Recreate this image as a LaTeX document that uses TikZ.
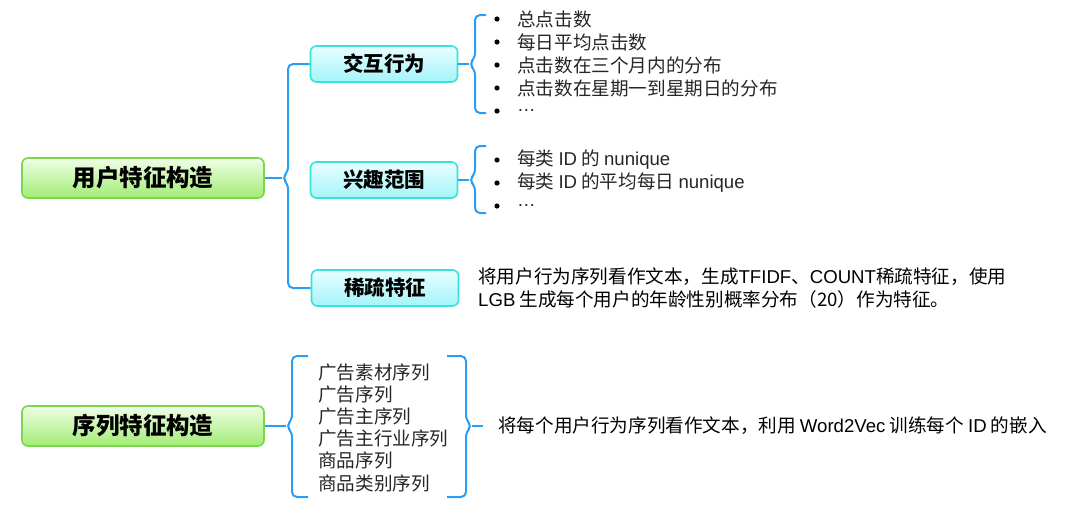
\documentclass[tikz,border=0pt]{standalone}
\usepackage{fontspec}
\setmainfont{Noto Sans CJK SC}
\newfontfamily\latfont{Liberation Sans}
\newcommand{\lat}[1]{{\latfont #1}}
\usetikzlibrary{positioning}
\definecolor{BraceBlue}{HTML}{2A9DF4}
\definecolor{RootEdge}{HTML}{7AD64C}
\definecolor{RootTop}{HTML}{F0FFE6}
\definecolor{RootBottom}{HTML}{A2EC74}
\definecolor{LeafEdge}{HTML}{38E2D6}
\definecolor{LeafTop}{HTML}{E8FFFF}
\definecolor{LeafBottom}{HTML}{A4F4FA}
\definecolor{Ink}{HTML}{262626}

\tikzset{
  rootbox/.style={draw=RootEdge, line width=1.6pt, rounded corners=6pt,
    top color=RootTop, bottom color=RootBottom,
    minimum width=242pt, minimum height=40pt, inner sep=0pt,
    font=\fontsize{23.5}{26}\selectfont\bfseries},
  leafbox/.style={draw=LeafEdge, line width=1.6pt, rounded corners=6pt,
    top color=LeafTop, bottom color=LeafBottom,
    minimum width=147pt, minimum height=36pt, inner sep=0pt,
    font=\fontsize{20.5}{24}\selectfont\bfseries},
  brace/.style={draw=BraceBlue, line width=2pt, rounded corners=5pt},
  item/.style={anchor=west, inner sep=0pt, text=Ink,
    font=\fontsize{18.6}{23}\selectfont},
}

\begin{document}
\begin{tikzpicture}[x=1pt, y=-1pt]
  \useasboundingbox (0,0) rectangle (1080,512);

  % roots
  \node[rootbox] (user) at (143,178) {用户特征构造};
  \node[rootbox] (seq) at (143,426) {序列特征构造};

  % user branches
  \node[leafbox] (act) at (384,64) {交互行为};
  \node[leafbox] (interest) at (384,180) {兴趣范围};
  \node[leafbox] (sparse) at (385,288) {稀疏特征};

  \coordinate (usercusp) at (282,178);
  \draw[brace] (user.east) -- (usercusp);
  \draw[brace] (act.west) -| (288,172) -- (usercusp) -- (288,184) |- (sparse.west);

  % interaction list
  \coordinate (actcusp) at (469,64);
  \draw[brace] (act.east) -- (actcusp);
  \draw[brace] (486,15) -- (475,15) -- (475,58) -- (actcusp) -- (475,70) -- (475,113) -- (486,113);
  \foreach \txt [count=\i] in {总点击数, 每日平均点击数, 点击数在三个月内的分布,
      点击数在星期一到星期日的分布, \lat{…}} {
    \fill[black] (497,{19+23*(\i-1)}) circle (2.6pt);
    \node[item] (actitem\i) at (517,{19+23*(\i-1)}) {\txt};
  }

  % interest list
  \coordinate (intcusp) at (469,180);
  \draw[brace] (interest.east) -- (intcusp);
  \draw[brace] (486,146) -- (475,146) -- (475,174) -- (intcusp) -- (475,186) -- (475,213) -- (486,213);
  \foreach \txt [count=\i] in {{每类 \lat{ID} 的 \lat{nunique}},
      {每类 \lat{ID} 的平均每日 \lat{nunique}}, \lat{…}} {
    \fill[black] (497,{160+23*(\i-1)}) circle (2.6pt);
    \node[item] (intitem\i) at (517,{160+23*(\i-1)}) {\txt};
  }

  % sparse description
  \node[item, align=left, text=black] (sparsetext) at (478,288)
    {将用户行为序列看作文本，生成\lat{TFIDF}、\lat{COUNT}稀疏特征，使用\\
     \lat{LGB} 生成每个用户的年龄性别概率分布（20）作为特征。};

  % sequence branch
  \coordinate (seqcusp) at (286,426);
  \draw[brace] (seq.east) -- (seqcusp);
  \draw[brace] (308,356) -- (292,356) -- (292,420) -- (seqcusp) -- (292,432) -- (292,497) -- (308,497);
  \foreach \txt [count=\i] in {广告素材序列, 广告序列, 广告主序列, 广告主行业序列,
      商品序列, 商品类别序列} {
    \node[item] (seqitem\i) at (318,{372+22.2*(\i-1)}) {\txt};
  }
  \coordinate (embcusp) at (472,426);
  \coordinate (embend) at (483,426);
  \draw[brace] (447,356) -- (466,356) -- (466,420) -- (embcusp) -- (466,432) -- (466,497) -- (447,497);
  \draw[brace] (embcusp) -- (embend);
  \node[item, text=black] (embtext) at (498,426)
    {将每个用户行为序列看作文本，利用 \lat{Word2Vec} 训练每个 \lat{ID} 的嵌入};
\end{tikzpicture}
\end{document}
